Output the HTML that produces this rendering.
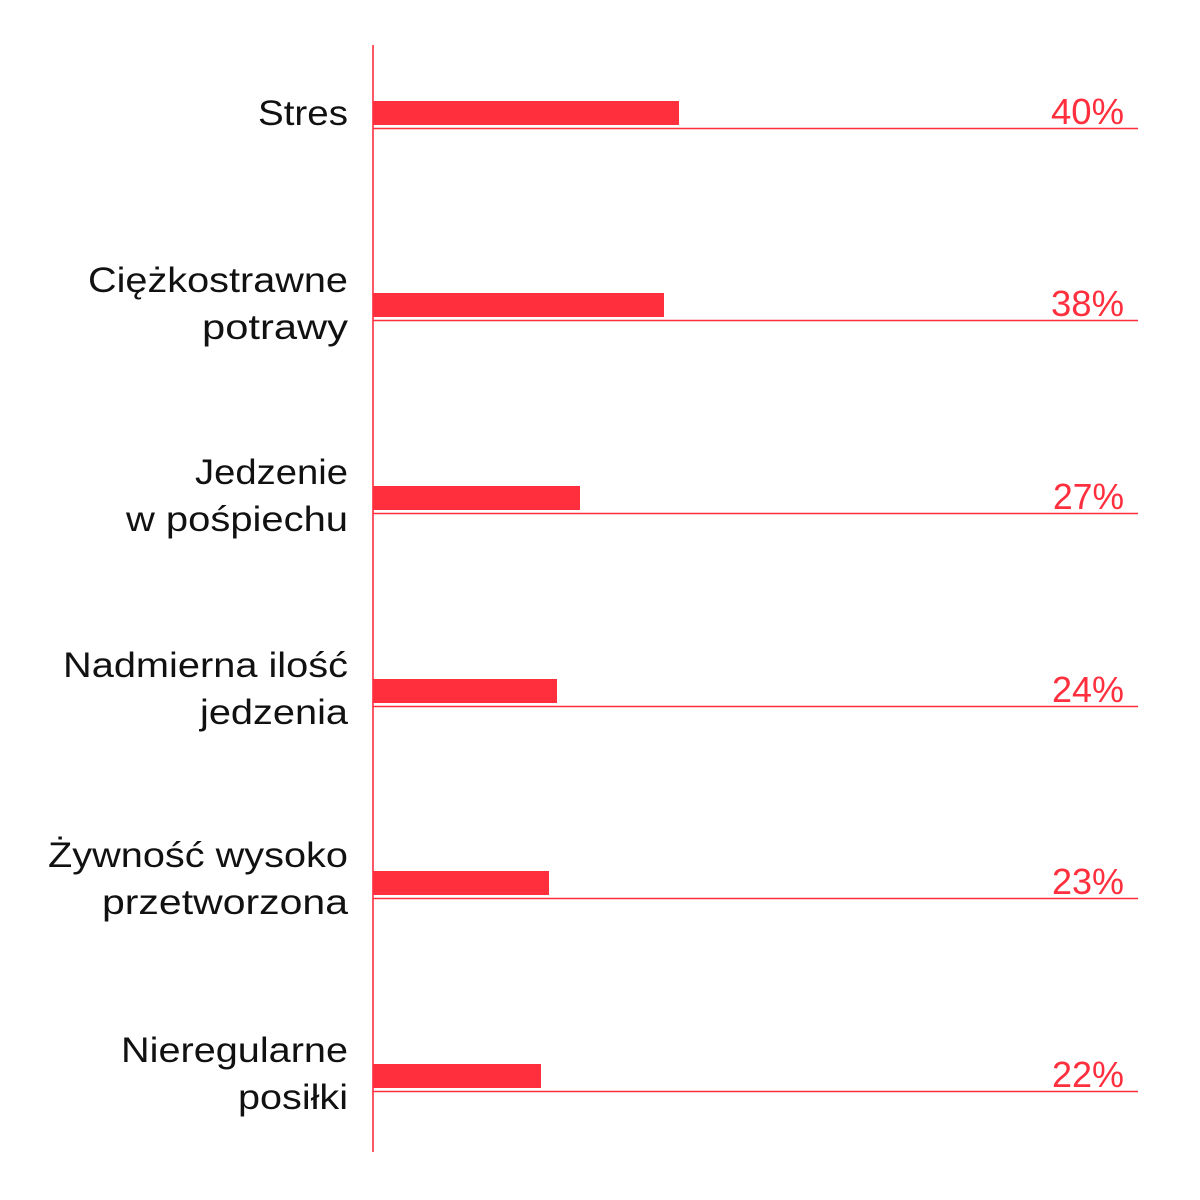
<!DOCTYPE html>
<html><head><meta charset="utf-8"><style>html,body{margin:0;padding:0;background:#fff}svg{display:block}</style></head>
<body>
<svg width="1200" height="1200" viewBox="0 0 1200 1200" xmlns="http://www.w3.org/2000/svg">
<g fill="#ff2f3e">
<rect x="373" y="101" width="306" height="24"/>
<rect x="373" y="293" width="291" height="24"/>
<rect x="373" y="486" width="207" height="24"/>
<rect x="373" y="679" width="184" height="24"/>
<rect x="373" y="871" width="176" height="24"/>
<rect x="373" y="1064" width="168" height="24"/>
</g>
<g stroke="#ff2f3e" stroke-width="1.6">
<line x1="373" y1="45" x2="373" y2="1152"/>
<line x1="373" y1="128.5" x2="1138" y2="128.5"/>
<line x1="373" y1="320.5" x2="1138" y2="320.5"/>
<line x1="373" y1="513.5" x2="1138" y2="513.5"/>
<line x1="373" y1="706.5" x2="1138" y2="706.5"/>
<line x1="373" y1="898.5" x2="1138" y2="898.5"/>
<line x1="373" y1="1091.5" x2="1138" y2="1091.5"/>
</g>
<g font-family="Liberation Sans, sans-serif" font-size="36" fill="#ff2f3e" text-anchor="end">
<text x="1124" y="124" textLength="73" lengthAdjust="spacingAndGlyphs">40%</text>
<text x="1124" y="316" textLength="73" lengthAdjust="spacingAndGlyphs">38%</text>
<text x="1124" y="509" textLength="71" lengthAdjust="spacingAndGlyphs">27%</text>
<text x="1124" y="702" textLength="72" lengthAdjust="spacingAndGlyphs">24%</text>
<text x="1124" y="894" textLength="72" lengthAdjust="spacingAndGlyphs">23%</text>
<text x="1124" y="1087" textLength="72" lengthAdjust="spacingAndGlyphs">22%</text>
</g>
<g font-family="Liberation Sans, sans-serif" font-size="35" fill="#111" text-anchor="end">
<text x="348" y="125" textLength="90" lengthAdjust="spacingAndGlyphs">Stres</text>
<text x="348" y="292" textLength="260" lengthAdjust="spacingAndGlyphs">Ciężkostrawne</text>
<text x="348" y="339" textLength="146" lengthAdjust="spacingAndGlyphs">potrawy</text>
<text x="348" y="484" textLength="153" lengthAdjust="spacingAndGlyphs">Jedzenie</text>
<text x="348" y="531" textLength="222" lengthAdjust="spacingAndGlyphs">w pośpiechu</text>
<text x="348" y="677" textLength="285" lengthAdjust="spacingAndGlyphs">Nadmierna ilość</text>
<text x="348" y="724" textLength="148" lengthAdjust="spacingAndGlyphs">jedzenia</text>
<text x="348" y="867" textLength="300" lengthAdjust="spacingAndGlyphs">Żywność wysoko</text>
<text x="348" y="914" textLength="246" lengthAdjust="spacingAndGlyphs">przetworzona</text>
<text x="348" y="1062" textLength="227" lengthAdjust="spacingAndGlyphs">Nieregularne</text>
<text x="348" y="1109" textLength="110" lengthAdjust="spacingAndGlyphs">posiłki</text>
</g>
</svg>
</body></html>
